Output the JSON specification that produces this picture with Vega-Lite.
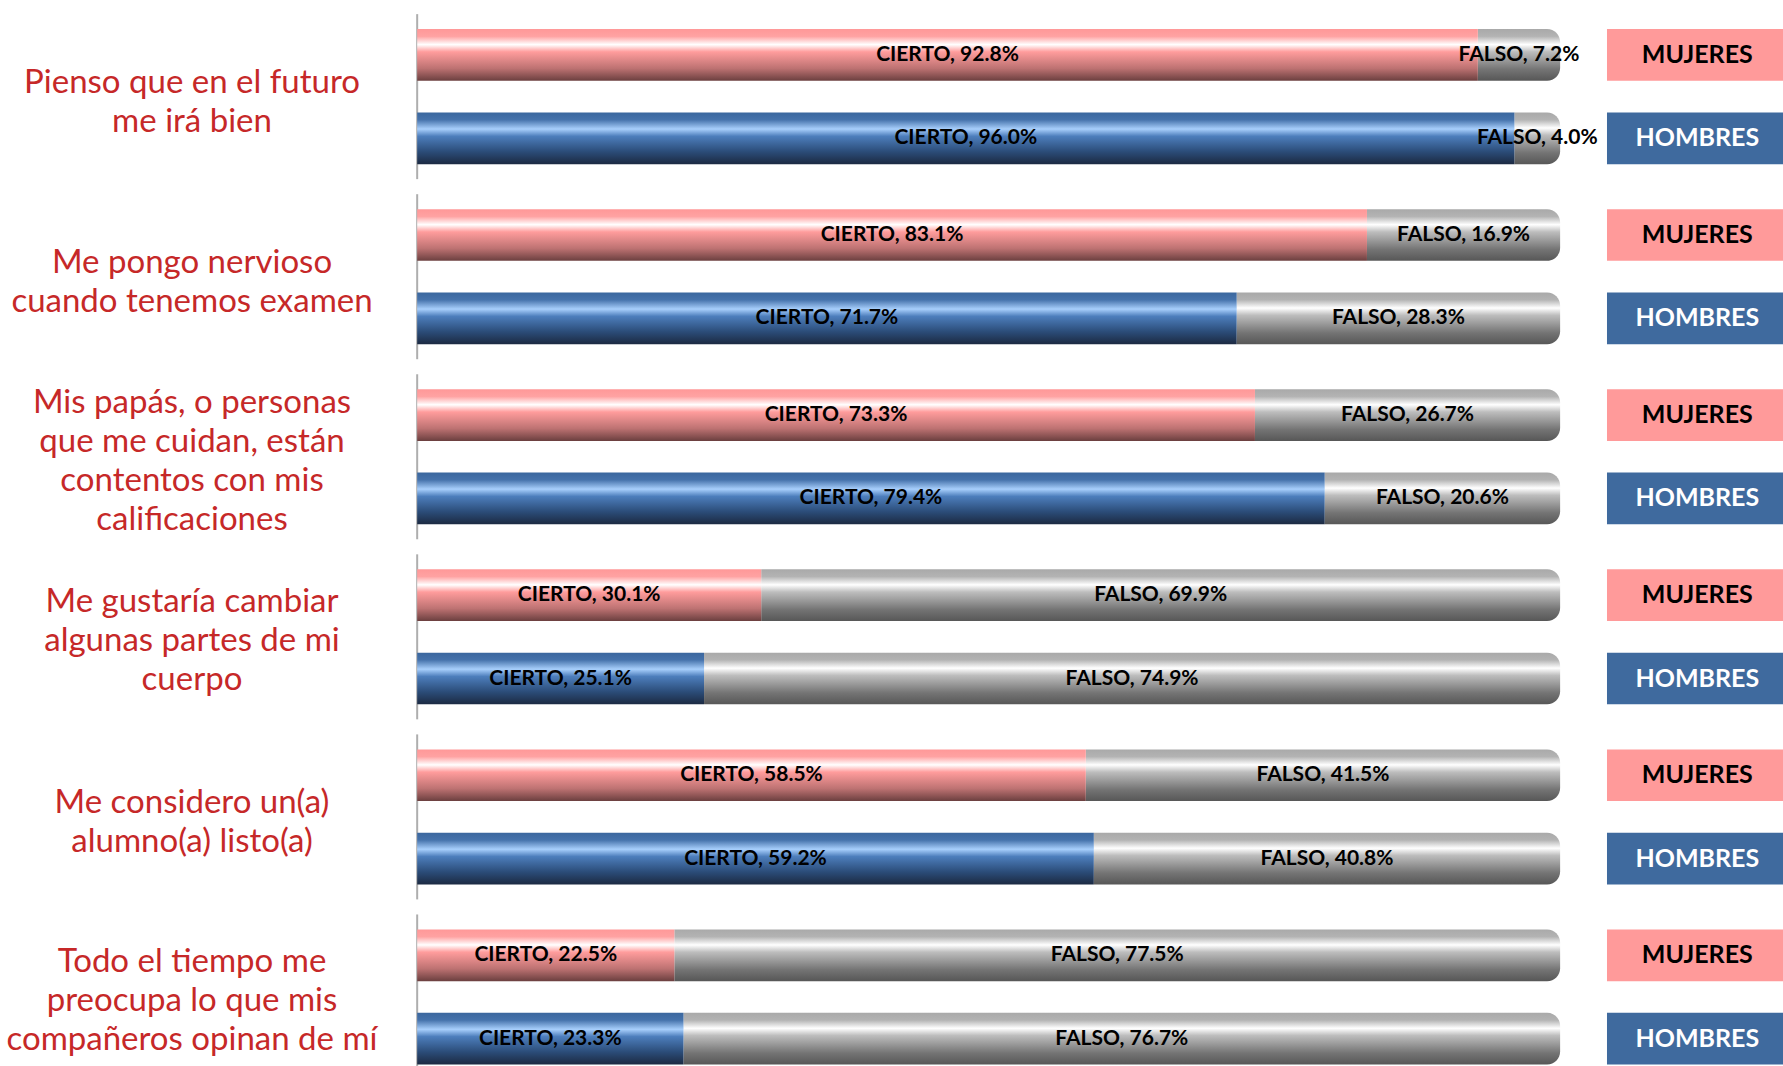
{
  "$schema": "https://vega.github.io/schema/vega-lite/v6.json",
  "autosize": {"type": "fit", "contains": "padding"},
  "width": 1783,
  "height": 1066,
  "padding": 0,
  "background": "white",
  "config": {"view": {"stroke": null}},
  "data": {"values": [
    {"q": "Pienso que en el futuro|me irá bien", "g": "MUJERES", "r": "CIERTO", "v": 92.8},
    {"q": "Pienso que en el futuro|me irá bien", "g": "MUJERES", "r": "FALSO", "v": 7.2},
    {"q": "Pienso que en el futuro|me irá bien", "g": "HOMBRES", "r": "CIERTO", "v": 96.0},
    {"q": "Pienso que en el futuro|me irá bien", "g": "HOMBRES", "r": "FALSO", "v": 4.0},
    {"q": "Me pongo nervioso|cuando tenemos examen", "g": "MUJERES", "r": "CIERTO", "v": 83.1},
    {"q": "Me pongo nervioso|cuando tenemos examen", "g": "MUJERES", "r": "FALSO", "v": 16.9},
    {"q": "Me pongo nervioso|cuando tenemos examen", "g": "HOMBRES", "r": "CIERTO", "v": 71.7},
    {"q": "Me pongo nervioso|cuando tenemos examen", "g": "HOMBRES", "r": "FALSO", "v": 28.3},
    {"q": "Mis papás, o personas|que me cuidan, están|contentos con mis|calificaciones", "g": "MUJERES", "r": "CIERTO", "v": 73.3},
    {"q": "Mis papás, o personas|que me cuidan, están|contentos con mis|calificaciones", "g": "MUJERES", "r": "FALSO", "v": 26.7},
    {"q": "Mis papás, o personas|que me cuidan, están|contentos con mis|calificaciones", "g": "HOMBRES", "r": "CIERTO", "v": 79.4},
    {"q": "Mis papás, o personas|que me cuidan, están|contentos con mis|calificaciones", "g": "HOMBRES", "r": "FALSO", "v": 20.6},
    {"q": "Me gustaría cambiar|algunas partes de mi|cuerpo", "g": "MUJERES", "r": "CIERTO", "v": 30.1},
    {"q": "Me gustaría cambiar|algunas partes de mi|cuerpo", "g": "MUJERES", "r": "FALSO", "v": 69.9},
    {"q": "Me gustaría cambiar|algunas partes de mi|cuerpo", "g": "HOMBRES", "r": "CIERTO", "v": 25.1},
    {"q": "Me gustaría cambiar|algunas partes de mi|cuerpo", "g": "HOMBRES", "r": "FALSO", "v": 74.9},
    {"q": "Me considero un(a)|alumno(a) listo(a)", "g": "MUJERES", "r": "CIERTO", "v": 58.5},
    {"q": "Me considero un(a)|alumno(a) listo(a)", "g": "MUJERES", "r": "FALSO", "v": 41.5},
    {"q": "Me considero un(a)|alumno(a) listo(a)", "g": "HOMBRES", "r": "CIERTO", "v": 59.2},
    {"q": "Me considero un(a)|alumno(a) listo(a)", "g": "HOMBRES", "r": "FALSO", "v": 40.8},
    {"q": "Todo el tiempo me|preocupa lo que mis|compañeros opinan de mí", "g": "MUJERES", "r": "CIERTO", "v": 22.5},
    {"q": "Todo el tiempo me|preocupa lo que mis|compañeros opinan de mí", "g": "MUJERES", "r": "FALSO", "v": 77.5},
    {"q": "Todo el tiempo me|preocupa lo que mis|compañeros opinan de mí", "g": "HOMBRES", "r": "CIERTO", "v": 23.3},
    {"q": "Todo el tiempo me|preocupa lo que mis|compañeros opinan de mí", "g": "HOMBRES", "r": "FALSO", "v": 76.7}
  ]},
  "transform": [
    {"stack": "v", "groupby": ["q", "g"], "sort": [{"field": "r", "order": "ascending"}], "as": ["x0", "x1"]},
    {"calculate": "datum.r + ', ' + format(datum.v, '.1f') + '%'", "as": "lab"}
  ],
  "encoding": {
    "y": {"field": "q", "type": "nominal", "sort": null, "axis": null, "scale": {"paddingInner": 0, "paddingOuter": 0, "range": [6.6, 1087]}}
  },
  "layer": [
    {
      "transform": [{"filter": "datum.r == 'CIERTO' && datum.g == 'MUJERES'"}],
      "mark": {"type": "tick", "orient": "vertical", "size": 165, "thickness": 2, "color": "#8c8c8c"},
      "encoding": {
        "x": {"datum": 0, "type": "quantitative", "scale": {"domain": [-36.5, 119.5], "nice": false, "zero": false}, "axis": null}
      }
    },
    {
      "transform": [{"filter": "datum.r == 'FALSO'"}],
      "mark": {"type": "bar", "cornerRadiusTopRight": 13, "cornerRadiusBottomRight": 13,
        "color": {"gradient": "linear", "x1": 0, "y1": 0, "x2": 0, "y2": 1, "stops": [
          {"offset": 0, "color": "#a9a9a9"}, {"offset": 0.14, "color": "#b3b3b3"}, {"offset": 0.3, "color": "#ffffff"},
          {"offset": 0.44, "color": "#bdbdbd"}, {"offset": 0.78, "color": "#747474"}, {"offset": 1, "color": "#575757"}]}},
      "encoding": {
        "x": {"field": "x0", "type": "quantitative", "scale": {"domain": [-36.5, 119.5], "nice": false, "zero": false}, "axis": null},
        "x2": {"field": "x1"},
        "yOffset": {"field": "g", "type": "nominal", "sort": ["MUJERES", "HOMBRES"], "scale": {"paddingInner": 0.38, "paddingOuter": 0.27}}
      }
    },
    {
      "transform": [{"filter": "datum.r == 'CIERTO' && datum.g == 'MUJERES'"}],
      "mark": {"type": "bar",
        "color": {"gradient": "linear", "x1": 0, "y1": 0, "x2": 0, "y2": 1, "stops": [
          {"offset": 0, "color": "#ff9898"}, {"offset": 0.14, "color": "#ffa2a2"}, {"offset": 0.3, "color": "#ffffff"},
          {"offset": 0.44, "color": "#ff9c9c"}, {"offset": 0.76, "color": "#bd7272"}, {"offset": 1, "color": "#6b3f3f"}]}},
      "encoding": {
        "x": {"field": "x0", "type": "quantitative", "scale": {"domain": [-36.5, 119.5], "nice": false, "zero": false}, "axis": null},
        "x2": {"field": "x1"},
        "yOffset": {"field": "g", "type": "nominal", "sort": ["MUJERES", "HOMBRES"], "scale": {"paddingInner": 0.38, "paddingOuter": 0.27}}
      }
    },
    {
      "transform": [{"filter": "datum.r == 'CIERTO' && datum.g == 'HOMBRES'"}],
      "mark": {"type": "bar",
        "color": {"gradient": "linear", "x1": 0, "y1": 0, "x2": 0, "y2": 1, "stops": [
          {"offset": 0, "color": "#3b679e"}, {"offset": 0.14, "color": "#4572ab"}, {"offset": 0.32, "color": "#a8cffc"},
          {"offset": 0.46, "color": "#4d7ebc"}, {"offset": 0.76, "color": "#2b4c78"}, {"offset": 1, "color": "#1c2a42"}]}},
      "encoding": {
        "x": {"field": "x0", "type": "quantitative", "scale": {"domain": [-36.5, 119.5], "nice": false, "zero": false}, "axis": null},
        "x2": {"field": "x1"},
        "yOffset": {"field": "g", "type": "nominal", "sort": ["MUJERES", "HOMBRES"], "scale": {"paddingInner": 0.38, "paddingOuter": 0.27}}
      }
    },
    {
      "mark": {"type": "text", "font": "Lato", "fontWeight": "bold", "fontSize": 21, "color": "#000000", "align": "center", "baseline": "middle"},
      "encoding": {
        "x": {"field": "v", "type": "quantitative", "stack": "zero", "bandPosition": 0.5, "scale": {"domain": [-36.5, 119.5], "nice": false, "zero": false}, "axis": null},
        "yOffset": {"field": "g", "type": "nominal", "sort": ["MUJERES", "HOMBRES"], "scale": {"paddingInner": 0.38, "paddingOuter": 0.27}},
        "detail": {"field": "r", "type": "nominal"},
        "order": {"field": "r", "type": "ordinal", "sort": "ascending"},
        "text": {"field": "lab", "type": "nominal"}
      }
    },
    {
      "transform": [{"filter": "datum.r == 'CIERTO'"}],
      "mark": {"type": "rect"},
      "encoding": {
        "x": {"datum": 104.1, "type": "quantitative", "scale": {"domain": [-36.5, 119.5], "nice": false, "zero": false}, "axis": null},
        "x2": {"datum": 119.5},
        "yOffset": {"field": "g", "type": "nominal", "sort": ["MUJERES", "HOMBRES"], "scale": {"paddingInner": 0.38, "paddingOuter": 0.27}},
        "color": {"field": "g", "type": "nominal", "scale": {"domain": ["MUJERES", "HOMBRES"], "range": ["#ff9a9a", "#3f6a9e"]}, "legend": null}
      }
    },
    {
      "transform": [{"filter": "datum.r == 'CIERTO'"}],
      "mark": {"type": "text", "font": "Lato", "fontWeight": "bold", "fontSize": 25, "align": "center", "baseline": "middle"},
      "encoding": {
        "x": {"datum": 112, "type": "quantitative", "scale": {"domain": [-36.5, 119.5], "nice": false, "zero": false}, "axis": null},
        "yOffset": {"field": "g", "type": "nominal", "sort": ["MUJERES", "HOMBRES"], "scale": {"paddingInner": 0.38, "paddingOuter": 0.27}},
        "text": {"field": "g", "type": "nominal"},
        "fill": {"field": "g", "type": "nominal", "scale": {"domain": ["MUJERES", "HOMBRES"], "range": ["#000000", "#ffffff"]}, "legend": null}
      }
    },
    {
      "transform": [{"filter": "datum.r == 'CIERTO' && datum.g == 'MUJERES' && length(split(datum.q, '|')) == 2"}],
      "mark": {"type": "text", "font": "Lato", "fontSize": 33, "lineHeight": 39, "lineBreak": "|", "dy": -14, "color": "#c62828", "align": "center", "baseline": "middle"},
      "encoding": {
        "x": {"datum": -19.7, "type": "quantitative", "scale": {"domain": [-36.5, 119.5], "nice": false, "zero": false}, "axis": null},
        "text": {"field": "q", "type": "nominal"}
      }
    },
    {
      "transform": [{"filter": "datum.r == 'CIERTO' && datum.g == 'MUJERES' && length(split(datum.q, '|')) == 3"}],
      "mark": {"type": "text", "font": "Lato", "fontSize": 33, "lineHeight": 39, "lineBreak": "|", "dy": -35, "color": "#c62828", "align": "center", "baseline": "middle"},
      "encoding": {
        "x": {"datum": -19.7, "type": "quantitative", "scale": {"domain": [-36.5, 119.5], "nice": false, "zero": false}, "axis": null},
        "text": {"field": "q", "type": "nominal"}
      }
    },
    {
      "transform": [{"filter": "datum.r == 'CIERTO' && datum.g == 'MUJERES' && length(split(datum.q, '|')) == 4"}],
      "mark": {"type": "text", "font": "Lato", "fontSize": 33, "lineHeight": 39, "lineBreak": "|", "dy": -53.5, "color": "#c62828", "align": "center", "baseline": "middle"},
      "encoding": {
        "x": {"datum": -19.7, "type": "quantitative", "scale": {"domain": [-36.5, 119.5], "nice": false, "zero": false}, "axis": null},
        "text": {"field": "q", "type": "nominal"}
      }
    }
  ]
}
